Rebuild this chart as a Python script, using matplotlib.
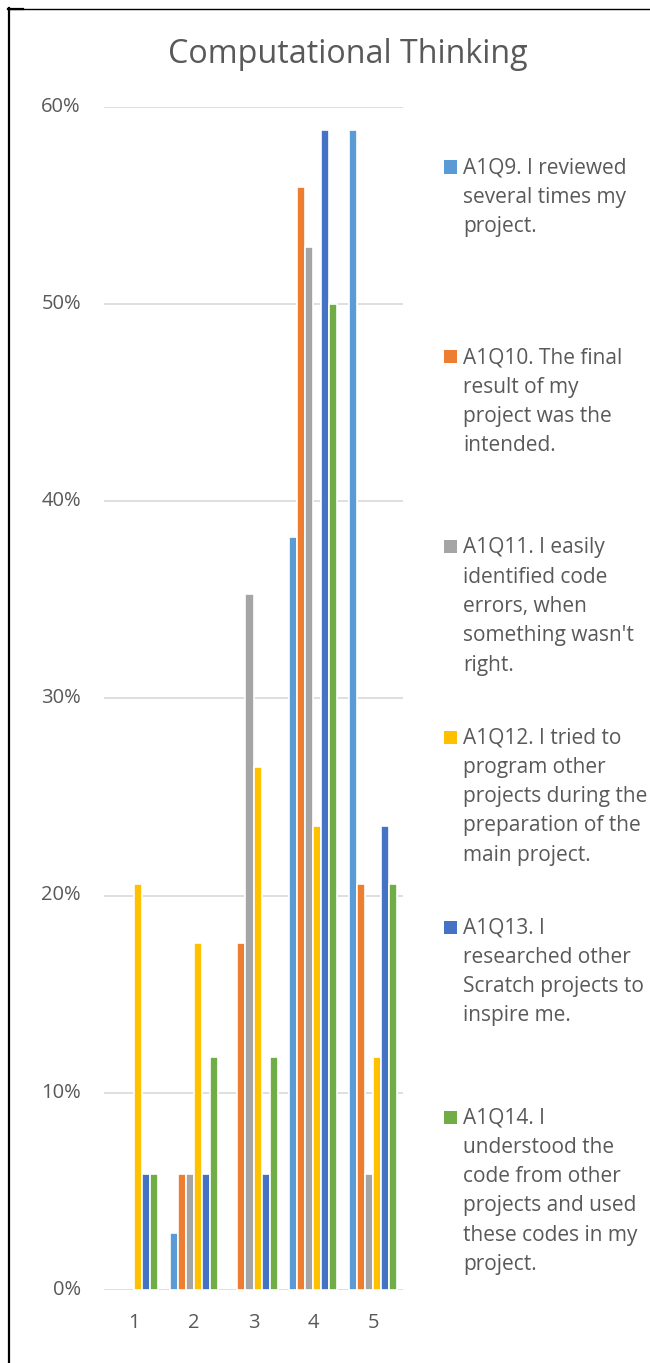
import matplotlib
matplotlib.use("Agg")
import matplotlib.pyplot as plt
from matplotlib.patches import Rectangle
from matplotlib.lines import Line2D
import numpy as np

# Share of responses (%) per Likert level, n = 34
levels = ["1", "2", "3", "4", "5"]
q9 = [0.0, 2.9, 0.0, 38.2, 58.8]
q10 = [0.0, 5.9, 17.6, 55.9, 20.6]
q11 = [0.0, 5.9, 35.3, 52.9, 5.9]
q12 = [20.6, 17.6, 26.5, 23.5, 11.8]
q13 = [5.9, 5.9, 5.9, 58.8, 23.5]
q14 = [5.9, 11.8, 11.8, 50.0, 20.6]

series_labels = [
    ["A1Q9. I reviewed", "several times my", "project."],
    ["A1Q10. The final", "result of my", "project was the", "intended."],
    ["A1Q11. I easily", "identified code", "errors, when", "something wasn't", "right."],
    ["A1Q12. I tried to", "program other", "projects during the", "preparation of the", "main project."],
    ["A1Q13. I", "researched other", "Scratch projects to", "inspire me."],
    ["A1Q14. I", "understood the", "code from other", "projects and used", "these codes in my", "project."],
]
y_ticks = [0, 10, 20, 30, 40, 50, 60]
y_tick_labels = ["0%", "10%", "20%", "30%", "40%", "50%", "60%"]

colors = ["#5B9BD5", "#ED7D31", "#A5A5A5", "#FFC000", "#4472C4", "#70AD47"]
text_color = "#595959"
grid_color = "#D9D9D9"
FONT = "Open Sans"

W, H = 650, 1363
fig = plt.figure(figsize=(W / 100, H / 100), dpi=100)
fig.patch.set_facecolor("white")


def fx(px):
    return px / W


def fy(py):
    return 1 - py / H


# plot area
ax = fig.add_axes([fx(104), fy(1290), fx(403) - fx(104), fy(106.5) - fy(1290)])
ax.set_xlim(0.5, 5.5)
ax.set_ylim(0, 60)
for s in ax.spines.values():
    s.set_visible(False)
ax.set_yticks(y_ticks)
ax.set_yticklabels([])
ax.set_xticks([])
ax.tick_params(length=0)
for yv in y_ticks:
    ax.axhline(yv, color=grid_color, lw=1.2, zorder=0)

all_series = [q9, q10, q11, q12, q13, q14]
x = np.arange(1, len(levels) + 1)
bw = 0.1338
n = len(all_series)
for i, (vals, c) in enumerate(zip(all_series, colors)):
    offs = (i - (n - 1) / 2) * bw
    bars = ax.bar(x + offs, vals, width=bw, color=c, edgecolor="white",
                  linewidth=1.2, zorder=2)
    for b, v in zip(bars, vals):
        if v == 0:
            b.set_visible(False)

# tick labels
for yv, lab in zip(y_ticks, y_tick_labels):
    ypix = ax.transData.transform((0.5, yv))[1]
    fig.text(fx(81), ypix / H, lab, ha="right", va="center",
             fontsize=14.5, color=text_color, family=FONT)
for xi, lab in zip(x, levels):
    xpix = ax.transData.transform((xi, 0))[0]
    fig.text(xpix / W, fy(1323), lab, ha="center", va="center",
             fontsize=14.5, color=text_color, family=FONT)

# title
fig.text(fx(348), fy(63), "Computational Thinking", ha="center",
         va="baseline", fontsize=23.2, color=text_color, family=FONT)

# legend
first_centers = [167, 357, 547, 737, 927, 1117]
line_pitch = 29.3
for lines, c, yc in zip(series_labels, colors, first_centers):
    fig.patches.append(Rectangle((fx(444), fy(yc + 6.5)), fx(13), 13 / H,
                                 transform=fig.transFigure, facecolor=c,
                                 edgecolor="none"))
    for k, ln in enumerate(lines):
        fig.text(fx(463), fy(yc + 6.3 + k * line_pitch), ln, ha="left",
                 va="baseline", fontsize=15, color=text_color, family=FONT)

# frame lines at the top and left
fig.lines.append(Line2D([fx(8), fx(650)], [fy(8.5), fy(8.5)],
                        transform=fig.transFigure, color="black", lw=1.0))
fig.lines.append(Line2D([fx(8), fx(23)], [fy(9), fy(9)],
                        transform=fig.transFigure, color="black", lw=1.6))
fig.lines.append(Line2D([fx(9), fx(9)], [fy(8), fy(1363)],
                        transform=fig.transFigure, color="black", lw=1.6))

fig.savefig("out.png", dpi=100, facecolor="white")
